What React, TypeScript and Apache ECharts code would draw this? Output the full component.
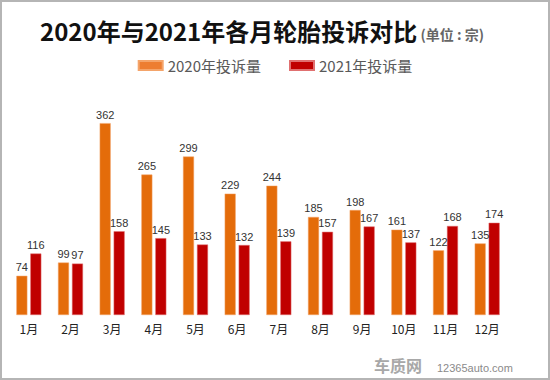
import React, { useEffect, useRef } from "react";
import * as echarts from "echarts";

const months = ["1月", "2月", "3月", "4月", "5月", "6月", "7月", "8月", "9月", "10月", "11月", "12月"];
const values2020 = [74, 99, 362, 265, 299, 229, 244, 185, 198, 161, 122, 135];
const values2021 = [116, 97, 158, 145, 133, 132, 139, 157, 167, 137, 168, 174];
const seriesNames = ["2020年投诉量", "2021年投诉量"];

export default function App() {
  const ref = useRef<HTMLDivElement>(null);
  useEffect(() => {
    if (!ref.current) return;
    const chart = echarts.init(ref.current, null, { renderer: "svg" });
    const labelStyle = {
      show: true,
      position: "top" as const,
      color: "#333",
      fontSize: 11,
      fontFamily: "Liberation Sans, Arial, sans-serif",
      distance: 3,
    };
    chart.setOption({
      animation: false,
      backgroundColor: "#fff",
      title: {
        left: 35,
        top: 13,
        text: "{a|2020年与2021年各月轮胎投诉对比}{b| (单位 : 宗)}",
        textStyle: {
          rich: {
            a: { fontSize: 24, fontWeight: "bold", color: "#111", fontFamily: "Noto Sans CJK SC" },
            b: { fontSize: 14, color: "#666", fontFamily: "Noto Sans CJK SC", padding: [8, 0, 0, 0] },
          },
        },
      },
      legend: {
        top: 53,
        left: "center",
        itemWidth: 24,
        itemHeight: 9,
        itemGap: 28,
        icon: "rect",
        textStyle: { fontSize: 15, color: "#595959", fontFamily: "Noto Sans CJK SC" },
        data: [
          { name: seriesNames[0], itemStyle: { color: "#ED7D31" } },
          { name: seriesNames[1], itemStyle: { color: "#C00000" } },
        ],
      },
      grid: { left: 8, right: 42, top: 103, bottom: 65 },
      xAxis: {
        type: "category",
        data: months,
        axisLine: { show: false },
        axisTick: { show: false },
        axisLabel: { color: "#222", fontSize: 12, fontFamily: "Noto Sans CJK SC", margin: 7 },
      },
      yAxis: { type: "value", min: 0, max: 400, show: false, splitLine: { show: false } },
      series: [
        {
          name: seriesNames[0],
          type: "bar",
          data: values2020,
          barWidth: 11,
          barGap: "27%",
          itemStyle: { color: "#E46C0A", borderColor: "#F4A46A", borderWidth: 0.5 },
          label: labelStyle,
        },
        {
          name: seriesNames[1],
          type: "bar",
          data: values2021,
          barWidth: 11,
          itemStyle: { color: "#C00000", borderColor: "#E07070", borderWidth: 0.5 },
          label: labelStyle,
        },
      ],
      graphic: [
        {
          type: "rect",
          shape: { x: 1, y: 1, width: 548, height: 378 },
          style: { fill: "none", stroke: "#B5B5B5", lineWidth: 2 },
          silent: true,
        },
        {
          type: "text",
          left: 374,
          top: 357,
          style: { text: "车质网", fill: "#A8A8A8", fontSize: 16, fontWeight: "bold", fontFamily: "Noto Sans CJK SC" },
          silent: true,
        },
        {
          type: "text",
          left: 437,
          top: 362,
          style: { text: "12365auto.com", fill: "#8A8A8A", fontSize: 11, fontFamily: "Liberation Sans, Arial, sans-serif" },
          silent: true,
        },
      ],
    });
    return () => chart.dispose();
  }, []);
  return (
    <div
      ref={ref}
      style={{ position: "fixed", left: 0, top: 0, width: 550, height: 380 }}
    />
  );
}
